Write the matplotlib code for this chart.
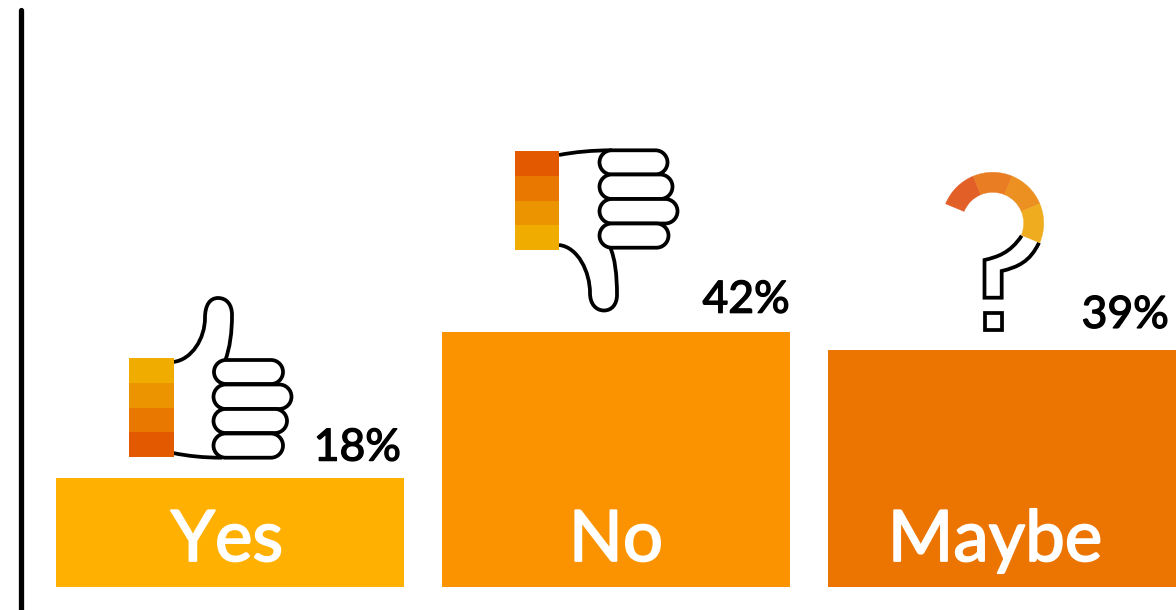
import matplotlib
matplotlib.use('Agg')
import matplotlib.pyplot as plt
import matplotlib.patheffects as pe
from matplotlib.patches import PathPatch, Rectangle, Wedge
from matplotlib.path import Path

categories = ['Yes', 'No', 'Maybe']
values = [18, 42, 39]

bar_colors = ['#FFB000', '#FB9300', '#EC7400']
cuff_colors = ['#F0AD00', '#EC9400', '#E87800', '#E35900']
ring_colors = ['#E35F28', '#E97D24', '#EC9021', '#EFAC1F']

plt.rcParams['font.family'] = ['Lato', 'DejaVu Sans']

W, H = 1176, 610
LINE = 2.7
M, C, L = Path.MOVETO, Path.CURVE4, Path.LINETO


def stadium(ax, x0, x1, y0, y1):
    # pill shape, the ends are two quarter circles each
    r = (y1 - y0) / 2
    k = 0.5523 * r
    ym = y0 + r
    verts = [(x0 + r, y0), (x1 - r, y0),
             (x1 - r + k, y0), (x1, ym - k), (x1, ym),
             (x1, ym + k), (x1 - r + k, y1), (x1 - r, y1),
             (x0 + r, y1),
             (x0 + r - k, y1), (x0, ym + k), (x0, ym),
             (x0, ym - k), (x0 + r - k, y0), (x0 + r, y0),
             (x0 + r, y0)]
    codes = [M, L, C, C, C, C, C, C, L, C, C, C, C, C, C, Path.CLOSEPOLY]
    ax.add_patch(PathPatch(Path(verts, codes), fc='white', ec='black', lw=LINE, zorder=3))


def curve(ax, verts, codes):
    ax.add_patch(PathPatch(Path(verts, codes), fc='none', ec='black', lw=LINE,
                           capstyle='butt', joinstyle='miter', zorder=2))


def cuff(ax, x0, x1, edges, colors):
    for k, c in enumerate(colors):
        ax.add_patch(Rectangle((x0, edges[k]), x1 - x0, edges[k + 1] - edges[k],
                               fc=c, ec='none', zorder=4))


fig = plt.figure(figsize=(W / 100, H / 100), dpi=100)

# bars, 348px wide on a 386px pitch, baseline 23px above the bottom edge
ax = fig.add_axes([0, 0, 1, 1])
px_per_pct = 6.08
ax.bar(range(3), values, width=348 / 386, color=bar_colors)
ax.set_xlim(-230 / 386, (W - 230) / 386)
ax.set_ylim(-23 / px_per_pct, (H - 23) / px_per_pct)
ax.set_xticks([])
ax.set_yticks([])
for s in ['top', 'right', 'bottom']:
    ax.spines[s].set_visible(False)
ax.spines['left'].set_position(('data', (21.5 - 230) / 386))
ax.spines['left'].set_bounds(-23 / px_per_pct, (H - 23 - 10) / px_per_pct)
ax.spines['left'].set_linewidth(3.8)
ax.spines['left'].set_capstyle('round')

label_shift = [-3, 0, -7]
pct_dx = [-3, 0, -7]
pct_dy = [17, 19, 22]
for i, (name, v) in enumerate(zip(categories, values)):
    t = ax.annotate(name, xy=(i, 0), xytext=(label_shift[i], 26), textcoords='offset pixels',
                    ha='center', va='baseline', color='white', fontsize=51)
    t.set_path_effects([pe.withStroke(linewidth=1.3, foreground='white')])
    t = ax.annotate('{}%'.format(v), xy=(i + 174 / 386, v), xytext=(pct_dx[i], pct_dy[i]),
                    textcoords='offset pixels', ha='right', va='baseline', color='black',
                    fontsize=32)
    t.set_path_effects([pe.withStroke(linewidth=1.0, foreground='black')])

# icons sit on an overlay measured in pixels, y pointing down
icons = fig.add_axes([0, 0, 1, 1])
icons.set_xlim(0, W)
icons.set_ylim(H, 0)
icons.axis('off')
icons.patch.set_alpha(0)

# thumb up
curve(icons, [(173, 362), (192, 360), (205, 338), (205, 318),
              (205, 305), (210, 298), (218, 298),
              (227, 298), (232, 305), (232, 315),
              (232, 332), (230, 348), (225, 361)],
      [M, C, C, C, C, C, C, C, C, C, C, C, C])
curve(icons, [(173, 453), (188, 456), (203, 457.7), (222, 457.7)], [M, C, C, C])
for f in [(214, 283, 360, 384), (213.5, 291.5, 384.5, 409),
          (213.5, 287, 409, 433), (213.5, 283, 433.5, 457.7)]:
    stadium(icons, *f)
cuff(icons, 129, 173.5, [357.7, 382.7, 407.7, 431.7, 456.7], cuff_colors)

# thumb down
curve(icons, [(559, 155), (575, 152), (592, 150.3), (612, 150.3)], [M, C, C, C])
curve(icons, [(559, 245), (578, 247), (590, 272), (590, 293),
              (590, 304), (596, 310.5), (604, 310.5),
              (612, 310.5), (617, 304), (617, 295),
              (617, 275), (615, 258), (610, 247)],
      [M, C, C, C, C, C, C, C, C, C, C, C, C])
for f in [(599.5, 667.5, 150.3, 174.5), (599.5, 672.5, 174.5, 199),
          (599.5, 677.5, 199, 223.5), (599.5, 668.5, 223.5, 247.7)]:
    stadium(icons, *f)
cuff(icons, 515, 559, [151, 175.7, 200.7, 224.7, 250], cuff_colors[::-1])

# question mark: ring of four 45 degree segments over an outlined stem
for k, c in enumerate(ring_colors):
    icons.add_patch(Wedge((992.7, 223.3), 51, -157.5 + 45 * k, -112.5 + 45 * k,
                          width=20, fc=c, ec=c, lw=0.3, zorder=4))
curve(icons, [(1021.7, 235.7), (1010, 253.3), (997, 257), (984.5, 260),
              (984.5, 297.7), (1001.7, 297.7), (1001.7, 271),
              (1018, 267), (1030, 261.7), (1039, 242.7)],
      [M, C, C, C, L, L, L, C, C, C])
icons.add_patch(Rectangle((984.5, 312.5), 17.2, 17.5, fc='white', ec='black', lw=LINE, zorder=3))

fig.savefig('out.png', dpi=100, facecolor='white')
